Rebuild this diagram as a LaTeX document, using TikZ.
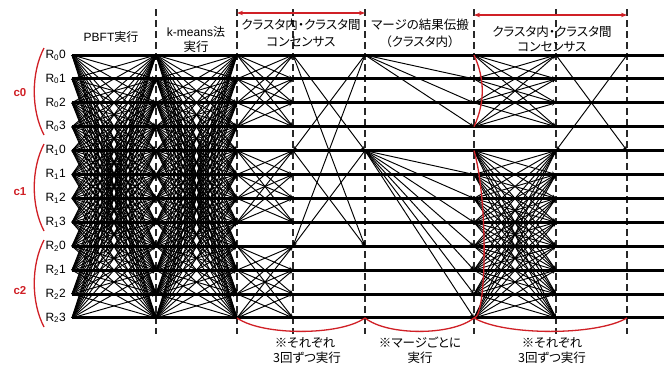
\documentclass[tikz,border=0pt]{standalone}
\usepackage{fontspec}
\setmainfont{Liberation Sans}
\newfontfamily\jp[RawFeature=+palt]{Noto Sans CJK JP}
\usetikzlibrary{arrows.meta}
\definecolor{redc}{RGB}{208,32,38}
\definecolor{sepc}{RGB}{40,40,40}
\begin{document}
\begin{tikzpicture}[x=1pt,y=-1pt,
  conn/.style={line width=0.95pt,-{Stealth[length=4.5pt,width=3.5pt]}},
  rowline/.style={line width=3pt},
  sepline/.style={sepc,line width=1.6pt,dash pattern=on 7pt off 4pt},
  redline/.style={redc,line width=1.3pt},
  redarrow/.style={redc,line width=1.2pt,{Stealth[length=6pt,width=4.5pt]}-{Stealth[length=6pt,width=4.5pt]}},
  rlabel/.style={anchor=east,inner sep=0pt,font=\fontsize{12}{12}\selectfont},
  clabel/.style={redc,font=\bfseries\fontsize{11.5}{12}\selectfont,inner sep=0pt},
  head/.style={inner sep=0pt,font=\jp\fontsize{12.5}{14}\selectfont},
  lhead/.style={inner sep=0pt,font=\fontsize{12}{14}\selectfont},
]
\useasboundingbox (0,0) rectangle (664,367);
% grid points
\foreach \i in {0,...,11}{
  \pgfmathsetmacro\yy{55+\i*23.9}
  \foreach \j/\x in {0/72,1/156,2/237,3/293,4/365,5/474,6/556,7/627,8/664}
    \coordinate (p\i-\j) at (\x,\yy);
}
% separators
\foreach \j/\x in {1/156,2/237,3/293,4/365,5/474,6/556,7/627}{
  \coordinate (s\j-t) at (\x,9);
  \coordinate (s\j-b) at (\x,334);
  \draw[sepline] (s\j-t) -- (s\j-b);
}
% row lines and labels
\foreach \i in {0,...,11}{
  \draw[rowline] (p\i-0) -- (p\i-8);
  \pgfmathtruncatemacro\cc{int(\i/4)}
  \pgfmathtruncatemacro\mm{mod(\i,4)}
  \node[rlabel] (lab\i) at ([xshift=-6pt]p\i-0) {R\textsubscript{\cc}\mm};
}
% section 1 and 2: all to all
\foreach \a in {0,...,11}{
  \foreach \b in {0,...,11}{
    \ifnum\a=\b\else
      \draw[conn] (p\a-0) -- (p\b-1);
      \draw[conn] (p\a-1) -- (p\b-2);
    \fi
  }
}
% section 3: intra-cluster
\foreach \c in {0,4,8}{
  \foreach \u in {0,...,3}{
    \foreach \v in {0,...,3}{
      \ifnum\u=\v\else
        \pgfmathtruncatemacro\ia{\c+\u}
        \pgfmathtruncatemacro\ib{\c+\v}
        \draw[conn] (p\ia-2) -- (p\ib-3);
      \fi
    }
  }
}
% section 3b: inter-cluster (leaders)
\foreach \a/\b in {0/4,0/8,4/8}{
  \draw[conn] (p\a-3) -- (p\b-4);
  \draw[conn] (p\a-4) -- (p\b-3);
}
% section 4: merge propagation
\foreach \b in {1,2,3} \draw[conn] (p0-4) -- (p\b-5);
\foreach \b in {5,...,11} \draw[conn] (p4-4) -- (p\b-5);
% section 5: intra-cluster after merge
\foreach \a in {0,...,3}{
  \foreach \b in {0,...,3}{
    \ifnum\a=\b\else \draw[conn] (p\a-5) -- (p\b-6); \fi
  }
}
\foreach \a in {4,...,11}{
  \foreach \b in {4,...,11}{
    \ifnum\a=\b\else \draw[conn] (p\a-5) -- (p\b-6); \fi
  }
}
% section 6: inter-cluster
\draw[conn] (p0-6) -- (p4-7);
\draw[conn] (p0-7) -- (p4-6);
% red curves in section 5
\draw[redline] (p0-5) .. controls ([xshift=11pt]p1-5) and ([xshift=11pt]p2-5) .. (p3-5);
\draw[redline] (p4-5) .. controls ([xshift=14pt]p6-5) and ([xshift=13pt]p11-5) .. (p11-5);
% left braces
\foreach \t/\bt in {48/135,144/231,240/327}{
  \draw[redline] (44,\t) .. controls (31,\t+25) and (31,\bt-25) .. (44,\bt);
}
\node[clabel] (c0) at (20,93) {c0};
\node[clabel] (c1) at (20,192) {c1};
\node[clabel] (c2) at (20,291) {c2};
% top red arrows
\coordinate (a1) at (237,13); \coordinate (a2) at (365,13);
\coordinate (a3) at (474,15); \coordinate (a4) at (627,15);
\draw[redarrow] (a1) -- (a2);
\draw[redarrow] (a3) -- (a4);
% bottom arcs
\draw[redline] (p11-2) .. controls ([xshift=25pt,yshift=-18pt]p11-2) and ([xshift=-25pt,yshift=-18pt]p11-4) .. (p11-4);
\draw[redline] (p11-4) .. controls ([xshift=22pt,yshift=-18pt]p11-4) and ([xshift=-22pt,yshift=-18pt]p11-5) .. (p11-5);
\draw[redline] (p11-5) .. controls ([xshift=30pt,yshift=-18pt]p11-5) and ([xshift=-30pt,yshift=-18pt]p11-7) .. (p11-7);
% headers
\node[lhead] (h1) at (111,37) {PBFT{\jp 実行}};
\node[lhead] (h2a) at (196,32) {k-means{\jp 法}};
\node[head] (h2b) at (196,47) {実行};
\node[head] (h3a) at (301,25) {クラスタ内・クラスタ間};
\node[head] (h3b) at (301,42) {コンセンサス};
\node[head] (h4a) at (420,25) {マージの結果伝搬};
\node[head] (h4b) at (420,42) {（クラスタ内）};
\node[head] (h5a) at (552,32) {クラスタ内・クラスタ間};
\node[head] (h5b) at (552,47) {コンセンサス};
% bottom notes
\node[head] (n1a) at (305,343) {※それぞれ};
\node[head] (n1b) at (307,358) {3回ずつ実行};
\node[head] (n2a) at (420,343) {※マージごとに};
\node[head] (n2b) at (420,358) {実行};
\node[head] (n3a) at (552,343) {※それぞれ};
\node[head] (n3b) at (552,358) {3回ずつ実行};
\end{tikzpicture}
\end{document}
